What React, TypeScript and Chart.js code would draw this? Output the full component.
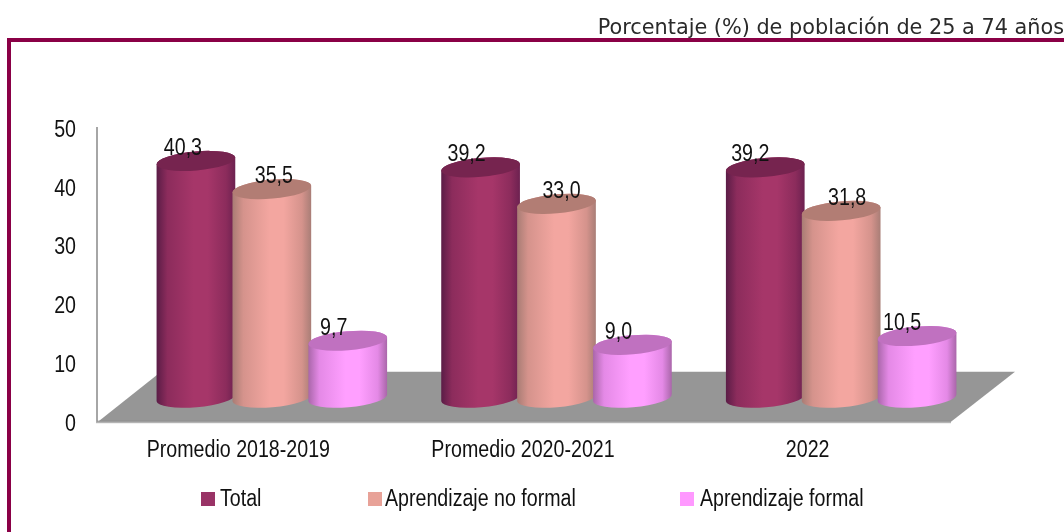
import React, { useEffect, useRef } from "react";
import { Chart, registerables } from "chart.js";

Chart.register(...registerables);

const categories = ["Promedio 2018-2019", "Promedio 2020-2021", "2022"];
const totalValues = [40.3, 39.2, 39.2];
const noFormalValues = [35.5, 33.0, 31.8];
const formalValues = [9.7, 9.0, 10.5];
const seriesNames = ["Total", "Aprendizaje no formal", "Aprendizaje formal"];
const titleText = "Porcentaje (%) de población de 25 a 74 años";

const legendColors = ["#993366", "#E8A298", "#FF99FF"];
const shades = [
  { edgeL: "#5a1c46", soft: "#8c2c5c", mid: "#a63669", edgeR: "#6c2150", top: "#76244f" },
  { edgeL: "#a87c74", soft: "#d5938c", mid: "#f3a6a0", edgeR: "#a87d76", top: "#b27d74" },
  { edgeL: "#a966a9", soft: "#e489e6", mid: "#ff9fff", edgeR: "#a966a9", top: "#c071c0" },
];
// Small per-label text nudges, as in the source, [series][category]
const labelNudge = [
  [-13, -14, -15],
  [2, 5, 6],
  [-14, -14, -15],
];

const INK = "#111111";
const FONT = '23.5px "Liberation Sans", sans-serif';
const SQUEEZE = 0.835;
const fmt = (v: number) => v.toFixed(1).replace(".", ",");

function narrowText(ctx: any, text: string, x: number, y: number, align: string) {
  ctx.save();
  ctx.translate(x, y + 2.5);
  ctx.scale(SQUEEZE, 1);
  ctx.font = FONT;
  ctx.fillStyle = INK;
  ctx.textAlign = align;
  ctx.textBaseline = "middle";
  ctx.fillText(text, 0, 0);
  ctx.restore();
}

const chrome = {
  id: "chrome",
  beforeDraw(chart: any) {
    const { ctx } = chart;
    ctx.save();
    ctx.fillStyle = "#8a0046";
    ctx.fillRect(7, 38, 1057, 4);
    ctx.fillRect(7, 38, 4, 494);
    ctx.restore();
  },
};

const cylinders = {
  id: "cylinders",
  beforeDatasetsDraw(chart: any) {
    const { ctx, chartArea: a, scales } = chart;
    const depthX = 64;
    const depthY = 50;
    // Floor of the 3D box
    ctx.save();
    ctx.beginPath();
    ctx.moveTo(a.left + 1, a.bottom);
    ctx.lineTo(a.left + depthX, a.bottom - depthY);
    ctx.lineTo(a.right + depthX, a.bottom - depthY);
    ctx.lineTo(a.right, a.bottom);
    ctx.closePath();
    ctx.fillStyle = "#969696";
    ctx.fill();
    ctx.fillStyle = "#8a8a8a";
    ctx.fillRect(a.left, a.bottom - 1, a.right - a.left, 1);
    ctx.fillStyle = "#b4b4b4";
    ctx.fillRect(a.left - 1, a.bottom, a.right - a.left + 1, 1.5);

    const shiftX = 32.5;
    const shiftY = 24;
    const rx = 39.5;
    const ry = 9.5;
    const rot = (-5 * Math.PI) / 180;
    chart.data.datasets.forEach((ds: any, i: number) => {
      const meta = chart.getDatasetMeta(i);
      meta.data.forEach((el: any) => {
        const cx = el.x + shiftX;
        const top = el.y - shiftY;
        const base = el.base - shiftY;
        const s = shades[i];
        const g = ctx.createLinearGradient(cx - rx, 0, cx + rx, 0);
        g.addColorStop(0, s.edgeL);
        g.addColorStop(0.14, s.soft);
        g.addColorStop(0.47, s.mid);
        g.addColorStop(0.65, s.mid);
        g.addColorStop(0.88, s.soft);
        g.addColorStop(1, s.edgeR);
        ctx.beginPath();
        ctx.ellipse(cx, base, rx, ry, rot, 0, Math.PI);
        ctx.ellipse(cx, top, rx, ry, rot, Math.PI, Math.PI * 2);
        ctx.closePath();
        ctx.fillStyle = g;
        ctx.fill();
        ctx.beginPath();
        ctx.ellipse(cx, top, rx, ry, rot, 0, Math.PI * 2);
        ctx.fillStyle = s.top;
        ctx.fill();
      });
    });
    // Value labels
    chart.data.datasets.forEach((ds: any, i: number) => {
      chart.getDatasetMeta(i).data.forEach((el: any, j: number) => {
        narrowText(ctx, fmt(ds.data[j]), el.x + shiftX + labelNudge[i][j], el.y - shiftY - 15, "center");
      });
    });
    // Axis labels
    scales.x.ticks.forEach((t: any, i: number) => {
      narrowText(ctx, String(scales.x.getLabelForValue(t.value)), scales.x.getPixelForTick(i) - 1, a.bottom + 26, "center");
    });
    scales.y.ticks.forEach((t: any, i: number) => {
      narrowText(ctx, String(t.label), a.left - 21, scales.y.getPixelForTick(i), "right");
    });
    // Legend, drawn from the datasets
    const boxes = [201, 368, 680];
    const texts = [220, 385, 700];
    chart.data.datasets.forEach((ds: any, i: number) => {
      ctx.fillStyle = ds.backgroundColor;
      ctx.fillRect(boxes[i], 492, 14, 14);
      narrowText(ctx, ds.label, texts[i], 497, "left");
    });
    ctx.restore();
    return false;
  },
};

export default function App() {
  const ref = useRef<HTMLCanvasElement>(null);
  useEffect(() => {
    const chart = new Chart(ref.current as HTMLCanvasElement, {
      type: "bar",
      plugins: [chrome, cylinders],
      data: {
        labels: categories,
        datasets: [
          { label: seriesNames[0], data: totalValues, backgroundColor: legendColors[0] },
          { label: seriesNames[1], data: noFormalValues, backgroundColor: legendColors[1] },
          { label: seriesNames[2], data: formalValues, backgroundColor: legendColors[2] },
        ],
      },
      options: {
        responsive: false,
        animation: false,
        layout: { padding: 0 },
        datasets: { bar: { categoryPercentage: 0.8, barPercentage: 1 } },
        plugins: {
          legend: { display: false },
          tooltip: { enabled: false },
          title: {
            display: true,
            text: titleText,
            align: "end",
            color: "#2a2a2a",
            font: { family: '"DejaVu Sans", sans-serif', size: 20.8, weight: "normal" },
            padding: { top: 16, bottom: 87 },
          },
        },
        scales: {
          x: {
            grid: { display: false },
            border: { display: false },
            ticks: { display: false },
            afterFit: (s: any) => {
              s.height = 110.3;
            },
          },
          y: {
            min: 0,
            max: 50,
            grid: { display: false, drawTicks: false },
            border: { display: true, color: "#a6a6a6", width: 2 },
            ticks: { display: false, stepSize: 10 },
            afterFit: (s: any) => {
              s.width = 97;
            },
          },
          yRight: {
            position: "right",
            min: 0,
            max: 50,
            grid: { display: false, drawTicks: false },
            border: { display: false },
            ticks: { display: false },
            afterFit: (s: any) => {
              s.width = 113;
            },
          },
        },
      } as any,
    });
    return () => chart.destroy();
  }, []);
  return (
    <div style={{ position: "fixed", left: 0, top: 0, width: 1064, height: 532, background: "#fff" }}>
      <canvas ref={ref} width={1064} height={532} style={{ display: "block" }} />
    </div>
  );
}
